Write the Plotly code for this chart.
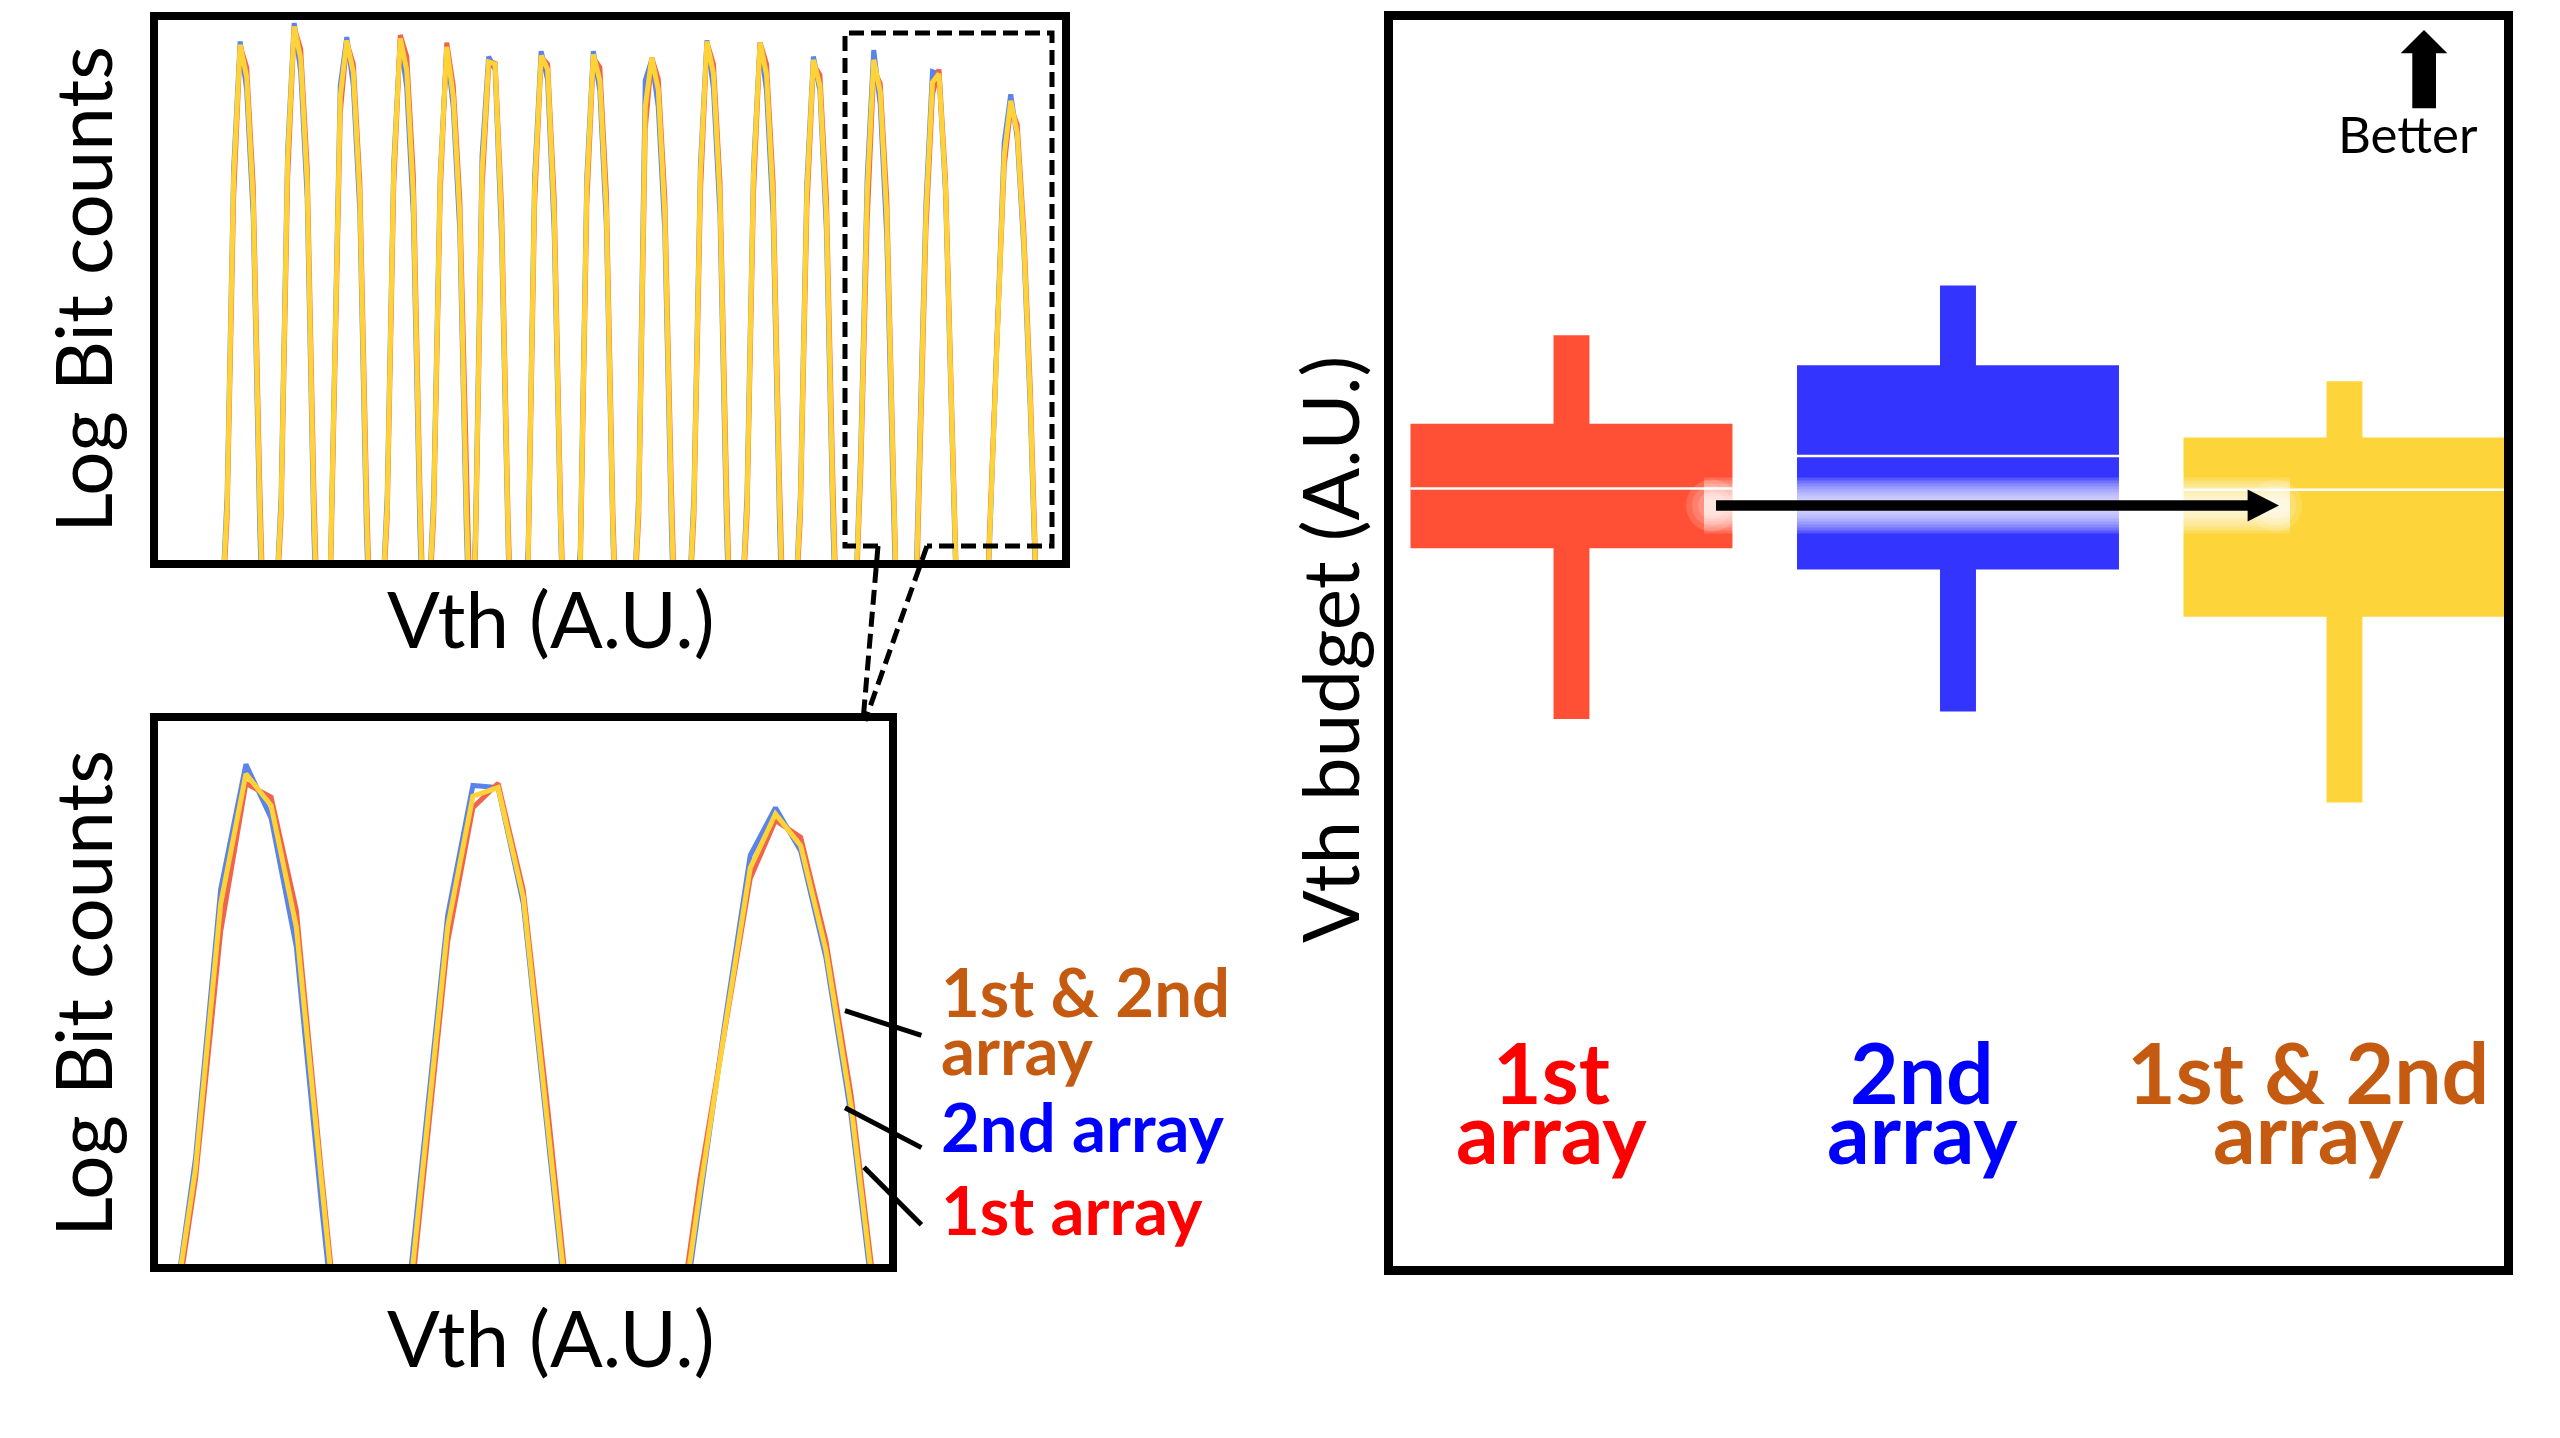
import plotly.graph_objects as go

# page body has an 8px margin; figure sized to fit the window inside it
OFF = 8
W, H = 2544, 1422

# ---------------- data ----------------
# Vth histogram bins (A.U.) and log bit counts for the three arrays
VTH = [
    7.02, 7.74, 8.46, 9.18, 9.90, 10.62, 11.34, 12.06,
    12.98, 13.70, 14.42, 15.14, 15.86, 16.58, 17.30, 18.02,
    18.79, 19.51, 20.23, 20.95, 21.67, 22.39, 23.11, 23.83,
    24.69, 25.41, 26.13, 26.85, 27.57, 28.29, 29.01, 29.73,
    29.82, 30.54, 31.26, 31.98, 32.70, 33.42, 34.14, 34.86,
    34.44, 35.16, 35.88, 36.60, 37.32, 38.04, 38.76, 39.48,
    40.24, 40.96, 41.68, 42.40, 43.12, 43.84, 44.56, 45.28,
    46.00, 46.72, 47.44, 48.16, 48.88, 49.60, 50.32, 51.04,
    52.45, 53.17, 53.89, 54.61, 55.33, 56.05, 56.77, 57.49,
    58.54, 59.26, 59.98, 60.70, 61.42, 62.14, 62.86, 63.58,
    64.40, 65.12, 65.84, 66.56, 67.28, 68.00, 68.72, 69.44,
    70.29, 71.01, 71.73, 72.45, 73.17, 73.89, 74.61, 75.33,
    76.95, 77.67, 78.39, 79.11, 79.83, 80.55, 81.27, 81.99,
    83.43, 84.15, 84.87, 85.59, 86.31, 87.03, 87.75, 88.47,
    91.35, 92.07, 92.79, 93.51, 94.23, 94.95, 95.67, 96.39, 97.11,
]
LOG_BOTH = [
    -0.7, 0.5, 3.55, 4.78, 4.48, 3.33, 0.5, -1.6,
    -0.7, 0.5, 3.72, 4.95, 4.65, 3.50, 0.5, -1.6,
    -1.5, 1.4, 4.30, 4.82, 4.52, 3.37, 0.5, -1.6,
    -0.7, 0.5, 3.61, 4.84, 4.54, 3.39, 0.5, -1.6,
    -0.7, 0.5, 3.53, 4.76, 4.30, 3.20, 0.5, -1.6,
    -1.5, 0.2, 3.60, 4.62, 4.60, 3.10, 0.2, -1.6,
    -0.7, 0.0, 3.45, 4.68, 4.55, 3.20, 0.3, -1.6,
    -0.7, 0.0, 3.46, 4.69, 4.45, 3.24, 0.3, -1.6,
    -0.7, 0.5, 4.20, 4.66, 4.36, 3.21, 0.5, -1.6,
    -0.7, 0.5, 3.58, 4.81, 4.51, 3.36, 0.5, -1.6,
    -0.7, 0.5, 3.57, 4.80, 4.50, 3.35, 0.5, -1.6,
    -0.7, 0.5, 3.41, 4.64, 4.40, 3.19, 0.5, -1.6,
    -0.7, 0.90, 3.41, 4.64, 4.34, 3.19, 0.77, -1.6,
    -1.45, 0.87, 3.19, 4.43, 4.51, 3.47, 1.24, -0.99,
    -1.0, 0.68, 2.24, 3.75, 4.26, 3.96, 2.97, 1.49, -0.5,
]
LOG_2ND = [
    -0.7, 0.6, 3.63, 4.81, 4.36, 3.19, 0.3, -1.7,
    -0.7, 0.6, 3.80, 4.98, 4.53, 3.36, 0.3, -1.7,
    -1.5, 1.5, 4.40, 4.85, 4.40, 3.23, 0.3, -1.7,
    -0.7, 0.6, 3.68, 4.83, 4.38, 3.21, 0.3, -1.7,
    -0.7, 0.6, 3.58, 4.74, 4.20, 3.05, 0.3, -1.7,
    -1.5, 0.3, 3.75, 4.67, 4.55, 2.95, 0.1, -1.7,
    -0.7, 0.1, 3.55, 4.72, 4.45, 3.05, 0.2, -1.7,
    -0.7, 0.1, 3.55, 4.72, 4.35, 3.10, 0.2, -1.7,
    -0.7, 0.6, 4.45, 4.64, 4.20, 3.05, 0.3, -1.7,
    -0.7, 0.6, 3.66, 4.82, 4.37, 3.20, 0.3, -1.7,
    -0.7, 0.6, 3.64, 4.80, 4.35, 3.18, 0.3, -1.7,
    -0.7, 0.6, 3.50, 4.67, 4.35, 3.05, 0.3, -1.7,
    -0.7, 1.0, 3.55, 4.73, 4.22, 3.00, 0.55, -1.7,
    -1.3, 1.0, 3.30, 4.53, 4.51, 3.41, 1.1, -1.1,
    -1.1, 0.6, 2.30, 3.87, 4.32, 3.91, 2.90, 1.4, -0.6,
]
LOG_1ST = [
    -0.8, 0.4, 3.37, 4.77, 4.57, 3.47, 0.7, -1.5,
    -0.8, 0.4, 3.54, 4.94, 4.74, 3.64, 0.7, -1.5,
    -1.6, 1.3, 4.15, 4.80, 4.60, 3.50, 0.7, -1.5,
    -0.8, 0.4, 3.47, 4.87, 4.67, 3.57, 0.7, -1.5,
    -0.8, 0.4, 3.40, 4.80, 4.40, 3.35, 0.7, -1.5,
    -1.6, 0.1, 3.45, 4.57, 4.62, 3.25, 0.35, -1.5,
    -0.8, -0.1, 3.30, 4.67, 4.60, 3.35, 0.45, -1.5,
    -0.8, -0.1, 3.30, 4.66, 4.57, 3.40, 0.45, -1.5,
    -0.8, 0.4, 4.00, 4.66, 4.46, 3.36, 0.7, -1.5,
    -0.8, 0.4, 3.40, 4.80, 4.60, 3.50, 0.7, -1.5,
    -0.8, 0.4, 3.40, 4.80, 4.60, 3.50, 0.7, -1.5,
    -0.8, 0.4, 3.25, 4.60, 4.50, 3.35, 0.7, -1.5,
    -0.8, 0.8, 3.15, 4.55, 4.42, 3.35, 0.85, -1.5,
    -1.6, 0.7, 3.05, 4.32, 4.55, 3.54, 1.4, -0.9,
    -0.9, 0.8, 2.20, 3.65, 4.20, 4.04, 3.06, 1.6, -0.4,
]

# Vth budget box summary (A.U.)
GROUP_LINE1 = ["1st", "2nd", "1st & 2nd"]
GROUP_LINE2 = ["array", "array", "array"]
GROUP_POS = [0, 1, 2]
BUDGET_LOW = [4.39, 4.45, 3.72]
BUDGET_Q1 = [5.76, 5.59, 5.21]
BUDGET_MED = [6.24, 6.50, 6.23]
BUDGET_Q3 = [6.76, 7.23, 6.65]
BUDGET_HIGH = [7.47, 7.87, 7.10]

# ---------------- styling ----------------
C_LINE_1ST = "#F0644F"
C_LINE_2ND = "#5A84EB"
C_LINE_BOTH = "#FDD338"
C_BOX = ["#FF5036", "#3434FF", "#FDD53A"]
C_TXT = ["#FF0000", "#0000FF", "#C55A11"]
FONT = "Lato, 'Open Sans', sans-serif"


def fx(p):
    return (p - OFF) / W


def fy(p):
    return 1 - (p - OFF) / H


fig = go.Figure()

for xa, ya in (("x", "y"), ("x2", "y2")):
    for vals, col in ((LOG_2ND, C_LINE_2ND), (LOG_1ST, C_LINE_1ST), (LOG_BOTH, C_LINE_BOTH)):
        fig.add_trace(go.Scatter(x=VTH, y=vals, mode="lines", xaxis=xa, yaxis=ya,
                                 line=dict(color=col, width=5), showlegend=False,
                                 hoverinfo="skip"))

# box chart built from bars
BOX_W = 0.833
WHISK_W = 0.093
fig.add_trace(go.Bar(x=GROUP_POS, y=[h - l for h, l in zip(BUDGET_HIGH, BUDGET_LOW)],
                     base=BUDGET_LOW, width=WHISK_W, marker=dict(color=C_BOX, line=dict(width=0)),
                     xaxis="x3", yaxis="y3", showlegend=False))
fig.add_trace(go.Bar(x=GROUP_POS, y=[q3 - q1 for q3, q1 in zip(BUDGET_Q3, BUDGET_Q1)],
                     base=BUDGET_Q1, width=BOX_W, marker=dict(color=C_BOX, line=dict(width=0)),
                     xaxis="x3", yaxis="y3", showlegend=False))
mx, my = [], []
for p, m in zip(GROUP_POS, BUDGET_MED):
    mx += [p - BOX_W / 2, p + BOX_W / 2, None]
    my += [m, m, None]
fig.add_trace(go.Scatter(x=mx, y=my, mode="lines", line=dict(color="white", width=2.5),
                         xaxis="x3", yaxis="y3", showlegend=False))

shapes = []
# panel borders
for (x0, y0, x1, y1, w) in ((154, 16, 1066, 564, 8), (154, 717, 893, 1268, 8),
                            (1388.5, 15.5, 2508.5, 1270.5, 9)):
    shapes.append(dict(type="rect", xref="paper", yref="paper", x0=fx(x0), x1=fx(x1),
                       y0=fy(y1), y1=fy(y0), line=dict(color="black", width=w)))
# dashed zoom box and connectors
dash = "15px,7px"
pts = [(878, 546), (845, 546), (845, 33), (1052, 33), (1052, 546), (927, 546)]
path = "M " + " L ".join(f"{fx(a)},{fy(b)}" for a, b in pts)
shapes.append(dict(type="path", xref="paper", yref="paper", path=path,
                   line=dict(color="black", width=5, dash=dash)))
for (a, b, c, d) in ((878, 546, 863, 721), (927, 546, 865, 721)):
    shapes.append(dict(type="line", xref="paper", yref="paper", x0=fx(a), y0=fy(b), x1=fx(c), y1=fy(d),
                       line=dict(color="black", width=5, dash=dash)))
# leader lines
for (a, b, c, d) in ((845, 1010.7, 921.4, 1035.4), (845, 1107.7, 921.4, 1147.6),
                     (864, 1167.3, 921.4, 1224.8)):
    shapes.append(dict(type="line", xref="paper", yref="paper", x0=fx(a), y0=fy(b), x1=fx(c), y1=fy(d),
                       line=dict(color="black", width=5)))
# soft white glow around the horizontal arrow
ay = 505.5
for wdt in (56, 50, 44, 38, 32, 26, 20, 14):
    shapes.append(dict(type="line", xref="paper", yref="paper", x0=fx(1704), x1=fx(2290),
                       y0=fy(ay), y1=fy(ay), line=dict(color="rgba(255,255,255,0.17)", width=wdt)))
for r in (26, 20, 14):
    for cxp in (1712, 2276):
        shapes.append(dict(type="circle", xref="paper", yref="paper", x0=fx(cxp - r), x1=fx(cxp + r),
                           y0=fy(ay + r), y1=fy(ay - r), fillcolor="rgba(255,255,255,0.15)",
                           line=dict(width=0)))
# horizontal arrow
shapes.append(dict(type="line", xref="paper", yref="paper", x0=fx(1716), x1=fx(2252),
                   y0=fy(ay), y1=fy(ay), line=dict(color="black", width=10.7)))
head = [(2279, ay), (2247.6, ay - 16), (2247.6, ay + 16)]
shapes.append(dict(type="path", xref="paper", yref="paper",
                   path="M " + " L ".join(f"{fx(a)},{fy(b)}" for a, b in head) + " Z",
                   fillcolor="black", line=dict(width=0)))
# up arrow ("Better")
up = [(2424, 30), (2447.3, 53.3), (2436, 53.3), (2436, 108.3), (2412.3, 108.3), (2412.3, 53.3), (2400.7, 53.3)]
shapes.append(dict(type="path", xref="paper", yref="paper",
                   path="M " + " L ".join(f"{fx(a)},{fy(b)}" for a, b in up) + " Z",
                   fillcolor="black", line=dict(width=0)))

ann = []


def txt(t, x, y, size, color="black", bold=False, angle=0, xanchor="center"):
    ann.append(dict(text=f"<b>{t}</b>" if bold else t, x=fx(x), y=fy(y), xref="paper", yref="paper",
                    showarrow=False, xanchor=xanchor, yanchor="middle", textangle=angle,
                    font=dict(family=FONT, size=size, color=color)))


txt("Log Bit counts", 82, 290, 78, angle=-90)
txt("Log Bit counts", 82, 994, 78, angle=-90)
txt("Vth (A.U.)", 551, 618, 78)
txt("Vth (A.U.)", 551, 1337, 78)
txt("Vth budget (A.U.)", 1329, 650, 78, angle=-90)
txt("Better", 2408, 133, 51)
# legend-like labels
txt("1st & 2nd", 939, 991, 67, C_TXT[2], True, xanchor="left")
txt("array", 939, 1049, 67, C_TXT[2], True, xanchor="left")
txt("2nd array", 939, 1126, 67, C_TXT[1], True, xanchor="left")
txt("1st array", 939, 1209, 67, C_TXT[0], True, xanchor="left")
# category labels
LABEL_CX = [1551, 1922, 2308]
for l1, l2, cx, col in zip(GROUP_LINE1, GROUP_LINE2, LABEL_CX, C_TXT):
    txt(l1, cx, 1071, 84, col, True)
    txt(l2, cx, 1131, 84, col, True)

ax_common = dict(visible=False, showgrid=False, zeroline=False)
fig.update_layout(
    width=W, height=H, margin=dict(l=0, r=0, t=0, b=0),
    paper_bgcolor="white", plot_bgcolor="white", showlegend=False,
    font=dict(family=FONT), barmode="overlay",
    xaxis=dict(domain=[fx(157), fx(1063)], range=[0, 100], anchor="y", **ax_common),
    yaxis=dict(domain=[fy(560), fy(21)], range=[0, 5], anchor="x", **ax_common),
    xaxis2=dict(domain=[fx(158), fx(890)], range=[76.6, 97.5], anchor="y2", **ax_common),
    yaxis2=dict(domain=[fy(1264), fy(720)], range=[0, 5.15], anchor="x2", **ax_common),
    xaxis3=dict(domain=[fx(1393), fx(2504)], range=[-0.4618, 2.4127], anchor="y3", **ax_common),
    yaxis3=dict(domain=[fy(1266), fy(20)], range=[0, 10], anchor="x3", **ax_common),
    shapes=shapes, annotations=ann,
)

fig.write_html("out.html")
